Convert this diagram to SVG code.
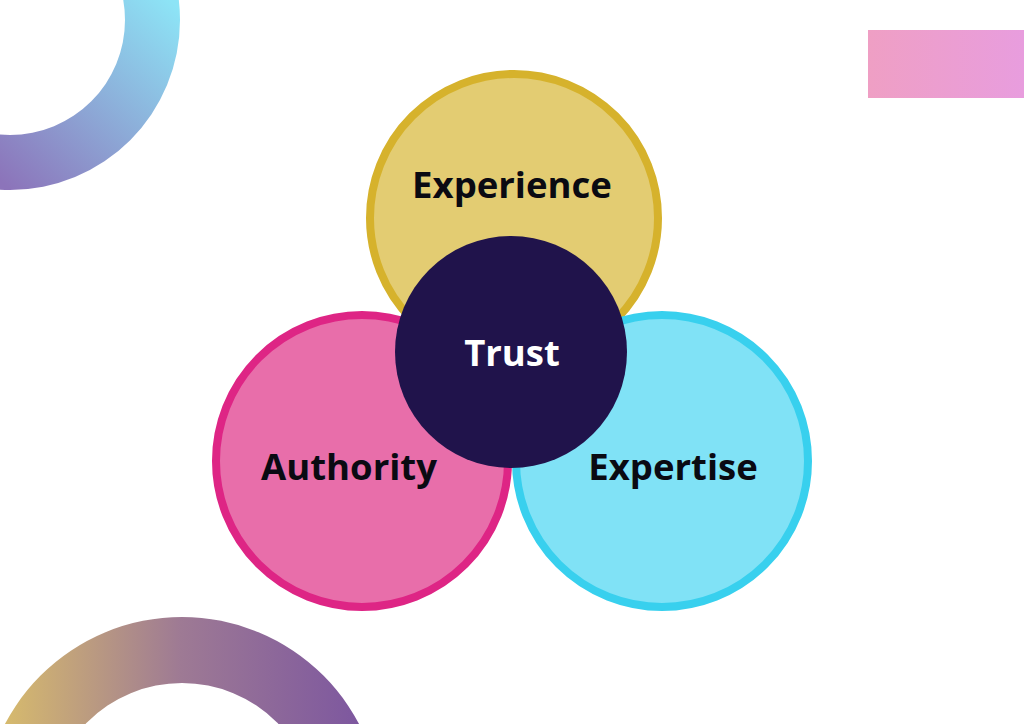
<svg xmlns="http://www.w3.org/2000/svg" width="1024" height="724" viewBox="0 0 1024 724">
<defs>
<linearGradient id="gTL" gradientUnits="userSpaceOnUse" x1="0" y1="180" x2="170" y2="0">
<stop offset="0" stop-color="#8C74BA"/>
<stop offset="1" stop-color="#8DE4F6"/>
</linearGradient>
<linearGradient id="gBL" gradientUnits="userSpaceOnUse" x1="0" y1="0" x2="360" y2="0">
<stop offset="0" stop-color="#D8BC6C"/>
<stop offset="0.5" stop-color="#9E7A94"/>
<stop offset="1" stop-color="#7D579F"/>
</linearGradient>
<linearGradient id="gTR" x1="0" y1="0" x2="1" y2="0">
<stop offset="0" stop-color="#EF9FC4"/>
<stop offset="1" stop-color="#E89DDE"/>
</linearGradient>
<style>
.lbl{font-family:"Open Sans","Liberation Sans",sans-serif;font-weight:700;font-size:36.5px;text-anchor:middle}
.dark{fill:#0A0A12}
.light{fill:#FFFFFF}
</style>
</defs>
<rect width="1024" height="724" fill="#FFFFFF"/>
<g id="decor">
<path d="M10 20 m-170 0 a170 170 0 1 0 340 0 a170 170 0 1 0 -340 0 Z M10 20 m-115 0 a115 115 0 1 1 230 0 a115 115 0 1 1 -230 0 Z" fill="url(#gTL)" fill-rule="evenodd"/>
<path d="M182 817 m-200 0 a200 200 0 1 0 400 0 a200 200 0 1 0 -400 0 Z M182 817 m-134 0 a134 134 0 1 1 268 0 a134 134 0 1 1 -268 0 Z" fill="url(#gBL)" fill-rule="evenodd"/>
<rect x="868" y="30" width="156" height="68" fill="url(#gTR)"/>
</g>
<g id="experience">
<circle cx="514" cy="218" r="144" fill="#E3CC72" stroke="#D6B22C" stroke-width="8"/>
<text class="lbl dark" x="512" y="198">Experience</text>
</g>
<g id="authority">
<circle cx="362" cy="461" r="146" fill="#E86EAA" stroke="#DE2585" stroke-width="8"/>
<text class="lbl dark" x="349" y="480">Authority</text>
</g>
<g id="expertise">
<circle cx="662" cy="461" r="146" fill="#80E2F6" stroke="#38D0EE" stroke-width="8"/>
<text class="lbl dark" x="673" y="480">Expertise</text>
</g>
<g id="trust">
<circle cx="511" cy="352" r="116" fill="#20134B"/>
<text class="lbl light" x="512" y="366">Trust</text>
</g>
<g id="connectors"></g>
</svg>
